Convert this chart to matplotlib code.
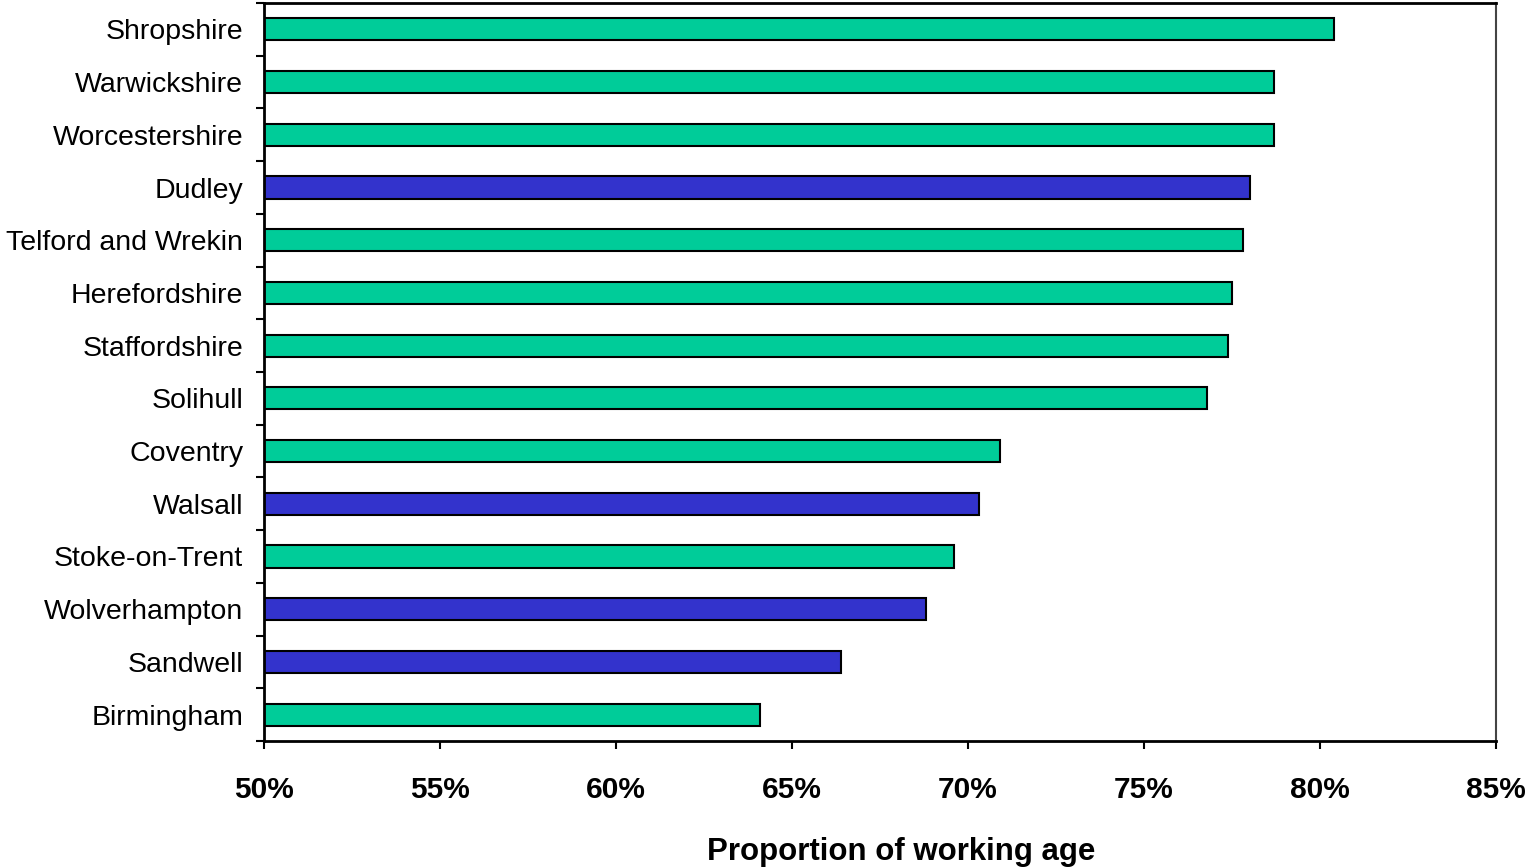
import matplotlib
matplotlib.use("Agg")
import matplotlib.pyplot as plt
from matplotlib.ticker import FixedLocator, PercentFormatter

plt.rcParams['font.family'] = ['Liberation Sans', 'DejaVu Sans']

areas = ["Shropshire", "Warwickshire", "Worcestershire", "Dudley", "Telford and Wrekin",
         "Herefordshire", "Staffordshire", "Solihull", "Coventry", "Walsall",
         "Stoke-on-Trent", "Wolverhampton", "Sandwell", "Birmingham"]
values = [80.4, 78.7, 78.7, 78.0, 77.8, 77.5, 77.4, 76.8, 70.9, 70.3, 69.6, 68.8, 66.4, 64.1]
groups = ["other", "other", "other", "black country", "other", "other", "other", "other",
          "other", "black country", "other", "black country", "black country", "other"]
colour_map = {"other": "#00CC99", "black country": "#3333CC"}
xticks = [50, 55, 60, 65, 70, 75, 80, 85]

fig = plt.figure(figsize=(15.27, 8.67), dpi=100)
ax = fig.add_axes([264/1527, 126/867, (1496-264)/1527, (864-126)/867])

n = len(areas)
ypos = [n - 1 - i for i in range(n)]
base = 50
ax.barh(ypos, [v - base for v in values], left=base, height=0.42,
        color=[colour_map[g] for g in groups], edgecolor="black", linewidth=1.5)

ax.set_xlim(50, 85)
ax.set_ylim(-0.5, n - 0.5)
ax.set_xticks(xticks)
ax.xaxis.set_major_formatter(PercentFormatter(decimals=0))
ax.set_yticks(ypos)
ax.set_yticklabels(areas)
ax.yaxis.set_minor_locator(FixedLocator([i - 0.5 for i in range(n + 1)]))
ax.tick_params(axis='y', which='major', length=0, pad=15, labelsize=20.5)
ax.tick_params(axis='y', which='minor', length=6, width=1.5, direction='out')
ax.tick_params(axis='x', which='major', length=6, width=1.5, direction='out', pad=19.5,
               labelsize=21.5)
for lbl in ax.get_xticklabels():
    lbl.set_fontweight('bold')

for side in ['left', 'bottom', 'top']:
    ax.spines[side].set_linewidth(2)
    ax.spines[side].set_color('black')
ax.spines['right'].set_linewidth(1.5)
ax.spines['right'].set_color('#444444')

ax.set_xlabel("Proportion of working age", fontsize=22.5, fontweight='bold', labelpad=24)
ax.xaxis.set_label_coords(0.5175, -0.13)

fig.savefig("out.png", dpi=100)
